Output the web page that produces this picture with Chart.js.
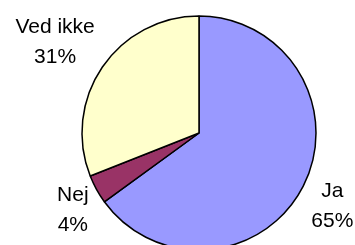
<!DOCTYPE html>
<html>
<head>
<meta charset="utf-8">
<script src="https://cdn.jsdelivr.net/npm/chart.js@4"></script>
<style>
  html, body { margin: 0; padding: 0; background: #fff; overflow: hidden; }
  #wrap { width: 355px; height: 266px; position: relative; }
</style>
</head>
<body>
<div id="wrap"><canvas id="pie"></canvas></div>
<script>
  /* data */
  const labels  = ['Ja', 'Nej', 'Ved ikke'];
  const values  = [65, 4, 31];
  const colours = ['#9999FF', '#993366', '#FFFFCC'];

  /* labels outside the slices, excel style */
  const outsideLabels = {
    id: 'outsideLabels',
    afterDatasetsDraw(chart) {
      const ctx = chart.ctx;
      const meta = chart.getDatasetMeta(0);
      ctx.save();
      ctx.font = '21px "Liberation Sans", Arial, sans-serif';
      ctx.fillStyle = '#000';
      ctx.textAlign = 'center';
      ctx.textBaseline = 'middle';
      meta.data.forEach((arc, i) => {
        const mid = (arc.startAngle + arc.endAngle) / 2;
        const dx = Math.cos(mid), dy = Math.sin(mid);
        const lines = [labels[i], values[i] + '%'];
        const hw = Math.max(...lines.map(l => ctx.measureText(l).width)) / 2;
        const r = arc.outerRadius + 9;
        const cx = arc.x + dx * r + Math.sign(dx) * hw;
        const cy = arc.y + dy * r + dy * 35;
        ctx.fillText(lines[0], cx, cy - 15);
        ctx.fillText(lines[1], cx, cy + 15);
      });
      ctx.restore();
    }
  };

  new Chart(document.getElementById('pie'), {
    type: 'pie',
    data: {
      labels: labels,
      datasets: [{
        data: values,
        backgroundColor: colours,
        borderColor: '#000',
        borderWidth: 1.5,
      }],
    },
    options: {
      responsive: true,
      maintainAspectRatio: false,
      animation: false,
      radius: 117,
      layout: { padding: { left: 43 } },
      plugins: { legend: { display: false }, tooltip: { enabled: false } },
    },
    plugins: [outsideLabels],
  });
</script>
</body>
</html>
